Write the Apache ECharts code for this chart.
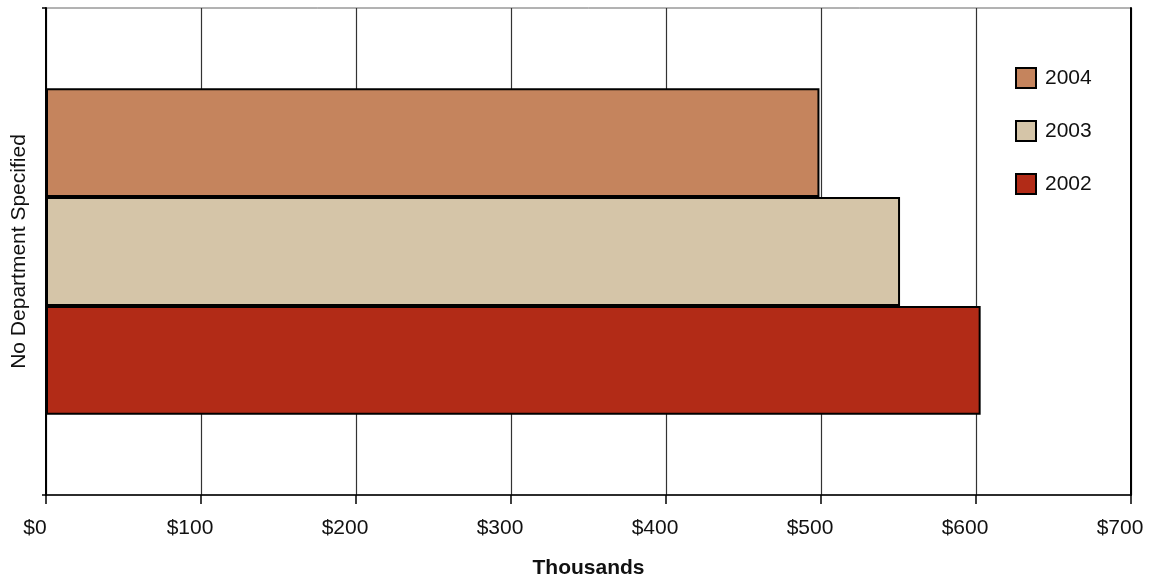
<!DOCTYPE html>
<html><head><meta charset="utf-8">
<script src="https://cdn.jsdelivr.net/npm/echarts@6/dist/echarts.min.js"></script>
<style>html,body{margin:0;padding:0;background:#fff}#c{width:1151px;height:581px}</style>
</head><body><div id="c"></div>
<script>
const categories = ['No Department Specified'];
const seriesNames = ['2004', '2003', '2002'];
const values2002 = [603];
const values2003 = [551];
const values2004 = [499];
const colors = {'2002': '#B22B17', '2003': '#D5C5A8', '2004': '#C5845D'};
const xTicks = [0, 700, 100];

const font = 'Liberation Sans, Arial, sans-serif';
const chart = echarts.init(document.getElementById('c'), null, {renderer: 'canvas'});
const dataMap = {'2002': values2002, '2003': values2003, '2004': values2004};
chart.setOption({
  animation: false,
  backgroundColor: '#fff',
  grid: {left: 46, right: 20, top: 8, bottom: 86, containLabel: false, outerBoundsMode: 'none', show: true, borderColor: '#666', borderWidth: 1, backgroundColor: 'transparent'},
  legend: {
    data: ['2004', '2003', '2002'],
    orient: 'vertical', left: 1010, top: 62, itemGap: 31, icon: 'rect',
    itemWidth: 20, itemHeight: 20,
    textStyle: {fontFamily: font, fontSize: 21, color: '#111', padding: [0, 0, 0, 4]},
    itemStyle: {borderColor: '#000', borderWidth: 2}
  },
  xAxis: [{
    type: 'value', min: xTicks[0], max: xTicks[1], interval: xTicks[2],
    name: 'Thousands', nameLocation: 'middle', nameGap: 63,
    nameTextStyle: {fontFamily: font, fontSize: 21, fontWeight: 'bold', color: '#111'},
    axisLine: {show: true, lineStyle: {color: '#000', width: 1.5}},
    axisTick: {show: true, length: 9, lineStyle: {color: '#000', width: 1.5}},
    axisLabel: {formatter: '${value}', fontFamily: font, fontSize: 21, color: '#111', margin: 23,
      padding: [0, 22, 0, 0], showMaxLabel: true, showMinLabel: true, hideOverlap: false},
    splitLine: {show: true, lineStyle: {color: '#333', width: 1.2}}
  }],
  yAxis: [{
    type: 'category', data: categories,
    name: categories[0], nameLocation: 'middle', nameGap: 16, nameRotate: 90,
    nameTextStyle: {fontFamily: font, fontSize: 21, color: '#111'},
    axisLine: {show: true, lineStyle: {color: '#000', width: 2}},
    axisTick: {show: true, length: 4, lineStyle: {color: '#000', width: 1.5}},
    axisLabel: {show: false},
    splitLine: {show: false}
  }, {
    type: 'category', data: categories, position: 'right',
    axisLine: {show: true, lineStyle: {color: '#000', width: 2}},
    axisTick: {show: false}, axisLabel: {show: false}
  }],
  series: seriesNames.map(n => ({
    name: n, type: 'bar', data: dataMap[n],
    barGap: '0%', barCategoryGap: '33%',
    itemStyle: {color: colors[n], borderColor: '#000', borderWidth: 2}
  }))
});
</script></body></html>
